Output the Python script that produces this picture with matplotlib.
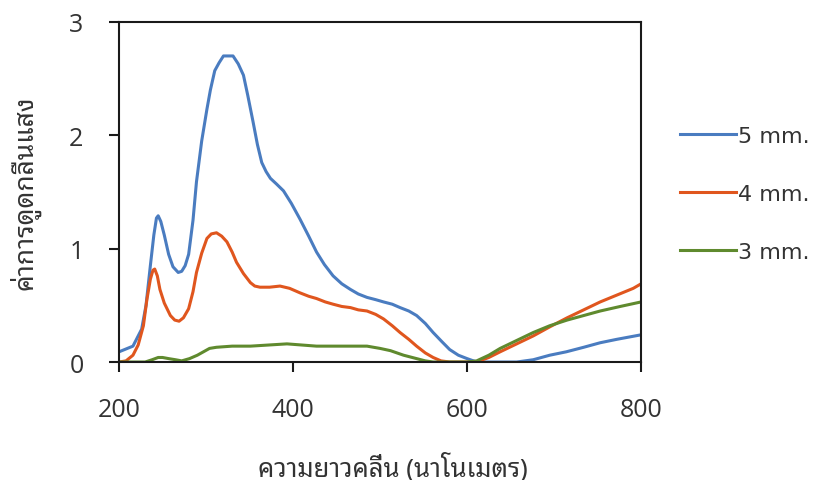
import matplotlib
matplotlib.use("Agg")
import matplotlib.pyplot as plt
from matplotlib import font_manager
from matplotlib.ft2font import FT2Font

# wavelength (nm) / absorbance
wl_5mm = [200, 216, 226, 231, 236, 240, 243, 245, 248, 252, 257, 262, 268, 272, 276, 280, 285, 289, 295,
          301, 305, 310, 315, 320, 325, 331, 337, 343, 348, 354, 359, 364, 369, 374, 381, 389, 398, 408,
          418, 427, 436, 446, 456, 466, 475, 485, 495, 504, 514, 523, 533, 542, 552, 561, 571, 580, 590,
          600, 611, 623, 640, 657, 676, 695, 714, 734, 753, 772, 800]
abs_5mm = [0.09, 0.14, 0.29, 0.50, 0.85, 1.12, 1.27, 1.29, 1.24, 1.12, 0.95, 0.84, 0.79, 0.80, 0.85, 0.95, 1.25, 1.59, 1.95,
           2.23, 2.40, 2.57, 2.64, 2.70, 2.70, 2.70, 2.63, 2.53, 2.35, 2.12, 1.92, 1.76, 1.68, 1.62, 1.57, 1.51, 1.40, 1.26,
           1.11, 0.97, 0.86, 0.76, 0.69, 0.64, 0.60, 0.57, 0.55, 0.53, 0.51, 0.48, 0.45, 0.41, 0.34, 0.26, 0.18, 0.11, 0.06,
           0.03, 0.0, 0.0, 0.0, 0.0, 0.02, 0.06, 0.09, 0.13, 0.17, 0.20, 0.24]

wl_4mm = [200, 208, 216, 222, 228, 232, 236, 239, 241, 244, 247, 252, 259, 264, 269, 274, 280, 285, 289, 295,
          301, 306, 312, 318, 324, 330, 335, 343, 351, 356, 362, 373, 385, 396, 408, 418, 427, 437, 446, 456,
          466, 475, 485, 495, 504, 514, 523, 533, 542, 552, 561, 570, 580, 611, 625, 638, 657, 676, 695, 715,
          734, 753, 772, 791, 800]
abs_4mm = [0.0, 0.01, 0.06, 0.15, 0.32, 0.55, 0.73, 0.81, 0.82, 0.76, 0.64, 0.52, 0.41, 0.37, 0.36, 0.39, 0.47, 0.62, 0.79, 0.96,
           1.09, 1.13, 1.14, 1.11, 1.06, 0.97, 0.88, 0.78, 0.70, 0.67, 0.66, 0.66, 0.67, 0.65, 0.61, 0.58, 0.56, 0.53, 0.51, 0.49,
           0.48, 0.46, 0.45, 0.42, 0.38, 0.32, 0.26, 0.20, 0.14, 0.08, 0.04, 0.01, 0.0, 0.0, 0.04, 0.09, 0.16, 0.23, 0.31, 0.39,
           0.46, 0.53, 0.59, 0.65, 0.69]

wl_3mm = [200, 230, 238, 245, 250, 257, 265, 272, 281, 290, 297, 304, 312, 330, 351, 372, 393, 410, 427, 456,
          485, 500, 512, 527, 542, 552, 561, 600, 611, 625, 638, 657, 676, 695, 715, 734, 753, 776, 800]
abs_3mm = [0.0, 0.0, 0.02, 0.04, 0.04, 0.03, 0.02, 0.01, 0.03, 0.06, 0.09, 0.12, 0.13, 0.14, 0.14, 0.15, 0.16, 0.15, 0.14, 0.14,
           0.14, 0.12, 0.10, 0.06, 0.03, 0.01, 0.0, 0.0, 0.01, 0.06, 0.12, 0.19, 0.26, 0.32, 0.37, 0.41, 0.45, 0.49, 0.53]

labels = ["5 mm.", "4 mm.", "3 mm."]
x_ticks = [200, 400, 600, 800]
y_ticks = [0, 1, 2, 3]
x_title = "ความยาวคลื่น (นาโนเมตร)"
y_title = "ค่าการดูดกลืนแสง"

# find an installed font with Thai glyphs, prefer proportional sans ones
prefer = ["Tahoma", "Leelawadee", "Noto Sans Thai", "Loma", "Garuda", "Sarabun", "Waree",
          "Umpush", "Sawasdee", "Laksaman", "Kinnari", "Norasi"]
found = []
for path in sorted(font_manager.findSystemFonts()):
    try:
        f = FT2Font(path)
        if 0x0E01 not in f.get_charmap():
            continue
        name = font_manager.FontProperties(fname=path).get_name()
        mono = False
        try:
            mono = bool(int(f.face_flags) & 4)
        except Exception:
            pass
        found.append((name, mono))
    except Exception:
        continue

thai_font = None
for p in prefer:
    for name, mono in found:
        if name.startswith(p):
            thai_font = name
            break
    if thai_font:
        break
if thai_font is None:
    for name, mono in found:
        if not mono and "Mono" not in name and "Typ" not in name:
            thai_font = name
            break
if thai_font is None and found:
    thai_font = found[0][0]

base = ["Open Sans", "DejaVu Sans"]
thai = [thai_font, "DejaVu Sans"] if thai_font else ["DejaVu Sans"]
plt.rcParams["font.family"] = base

fig = plt.figure(figsize=(8.17, 4.81), dpi=100)
ax = fig.add_axes([0.1457, 0.2453, 0.639, 0.707])

ax.plot(wl_5mm, abs_5mm, color="#4a7cc0", lw=2.2, label=labels[0])
ax.plot(wl_4mm, abs_4mm, color="#e0561e", lw=2.2, label=labels[1])
ax.plot(wl_3mm, abs_3mm, color="#5f8a2e", lw=2.2, label=labels[2])

ax.set_xlim(200, 800)
ax.set_ylim(0, 3)
ax.set_xticks(x_ticks)
ax.set_yticks(y_ticks)
for s in ax.spines.values():
    s.set_linewidth(1.5)
    s.set_color("#1a1a1a")
ax.tick_params(axis="both", direction="out", length=7.5, width=1.5, labelsize=18,
               colors="#1a1a1a", labelcolor="#333333")
ax.tick_params(axis="x", pad=18)
ax.tick_params(axis="y", pad=18)

ax.set_xlabel(x_title, fontsize=18.5, color="#333333", family=thai)
ax.xaxis.set_label_coords(0.525, -0.265)
ax.set_ylabel(y_title, fontsize=19, color="#333333", family=thai)
ax.yaxis.set_label_coords(-0.15, 0.5)

ax.legend(loc="center left", bbox_to_anchor=(1.037, 0.494), frameon=False,
          prop={"family": "DejaVu Sans", "size": 16},
          handlelength=2.5, handletextpad=0.1, labelspacing=1.72, labelcolor="#333333")

fig.savefig("out.png", dpi=100)
